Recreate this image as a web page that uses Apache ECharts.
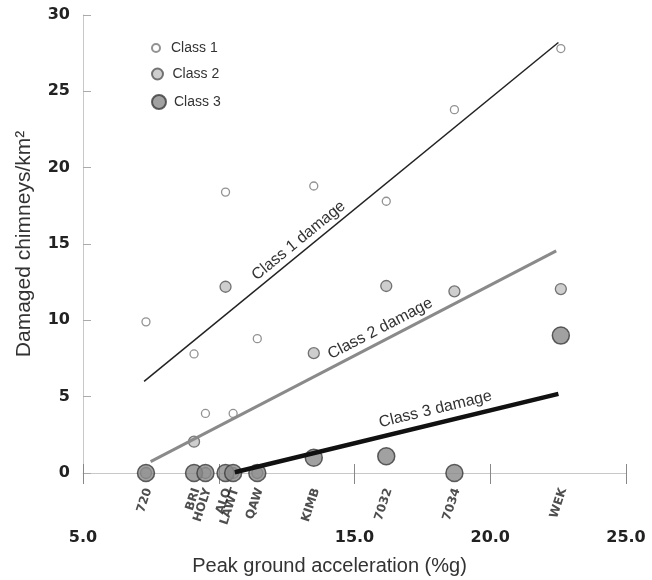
<!DOCTYPE html>
<html>
<head>
<meta charset="utf-8">
<script src="https://cdn.jsdelivr.net/npm/echarts@6/dist/echarts.min.js"></script>
<style>
  html, body { margin: 0; padding: 0; background: #fff; }
  #main { width: 652px; height: 580px; }
</style>
</head>
<body>
<div id="main"></div>
<script>
// station data
const stations = ["720", "BRI", "HOLY", "ALO", "LAWT", "QAW", "KIMB", "7032", "7034", "WEK"];
const pga = [7.32, 9.09, 9.51, 10.25, 10.53, 11.42, 13.5, 16.17, 18.68, 22.6];
const class1 = [9.9, 7.8, 3.9, 18.4, 3.9, 8.8, 18.8, 17.8, 23.8, 27.8];
const class2 = [0, 2.05, 0, 12.2, 0, 0, 7.85, 12.25, 11.9, 12.05];
const class3 = [0, 0, 0, 0, 0, 0, 1.0, 1.1, 0, 9.0];

// fitted damage lines (start, end)
const trend1 = [[7.25, 6.0], [22.51, 28.2]];
const trend2 = [[7.49, 0.74], [22.43, 14.55]];
const trend3 = [[10.59, 0.05], [22.51, 5.18]];
const trendNames = ["Class 1 damage", "Class 2 damage", "Class 3 damage"];

// axis ticks
const xLabelValues = [5, 15, 20, 25];

const font = "Liberation Sans, Arial, sans-serif";
const boldFont = "DejaVu Sans, sans-serif";
const pts = (ys) => pga.map((x, i) => [x, ys[i]]);

const chart = echarts.init(document.getElementById("main"));

const legendItem = (name, top, size) => ({
  data: [name],
  orient: "vertical",
  left: 151,
  top: top,
  padding: 0,
  itemWidth: 16,
  itemHeight: size,
  selectedMode: false,
  textStyle: { fontFamily: font, fontSize: 14, color: "#333", padding: [0, 0, 0, 2] },
});

const option = {
  animation: false,
  grid: { left: 83, right: 26, top: 15, bottom: 107, outerBoundsMode: "none" },
  legend: [
    legendItem("Class 1", 41, 8),
    legendItem("Class 2", 67, 11),
    legendItem("Class 3", 94, 14),
  ],
  xAxis: [
    {
      type: "value",
      min: 5,
      max: 25,
      interval: 5,
      name: "Peak ground acceleration (%g)",
      nameLocation: "middle",
      nameGap: 83,
      nameTextStyle: { fontFamily: font, fontSize: 20, color: "#333", padding: [0, 50, 0, 0] },
      axisLine: { lineStyle: { color: "#c8c8c8", width: 1 } },
      axisTick: { length: 11, lineStyle: { color: "#888" } },
      splitLine: { show: false },
      axisLabel: {
        customValues: xLabelValues,
        margin: 57,
        fontFamily: boldFont,
        fontSize: 16,
        fontWeight: "bold",
        color: "#222",
        formatter: (v) => v.toFixed(1),
      },
    },
    {
      // upper half of the crossing ticks
      type: "value",
      min: 5,
      max: 25,
      interval: 5,
      position: "bottom",
      axisLine: { show: false },
      axisTick: { inside: true, length: 9, lineStyle: { color: "#888" } },
      axisLabel: { show: false },
      splitLine: { show: false },
    },
  ],
  yAxis: {
    type: "value",
    min: 0,
    max: 30,
    interval: 5,
    name: "Damaged chimneys/km²",
    nameLocation: "middle",
    nameGap: 48,
    nameTextStyle: { fontFamily: font, fontSize: 21, color: "#333" },
    axisLine: { show: true, lineStyle: { color: "#c8c8c8" } },
    axisTick: { show: true, inside: true, length: 8, lineStyle: { color: "#aaa" } },
    splitLine: { show: false },
    axisLabel: {
      margin: 13,
      fontFamily: boldFont,
      fontSize: 16,
      fontWeight: "bold",
      color: "#222",
    },
  },
  series: [
    {
      name: "stations",
      type: "scatter",
      data: pga.map((x) => [x, 0]),
      symbolSize: 1,
      silent: true,
      itemStyle: { color: "transparent" },
      label: {
        show: true,
        position: [3, 16],
        rotate: 72,
        align: "right",
        verticalAlign: "middle",
        fontFamily: boldFont,
        fontSize: 12,
        fontWeight: "bold",
        color: "#222",
        formatter: (p) => stations[p.dataIndex],
      },
    },
    {
      type: "line",
      data: trend1,
      showSymbol: false,
      silent: true,
      lineStyle: { color: "#222", width: 1.5 },
    },
    {
      type: "line",
      data: trend2,
      showSymbol: false,
      silent: true,
      lineStyle: { color: "#8a8a8a", width: 3 },
    },
    {
      type: "line",
      data: trend3,
      showSymbol: false,
      silent: true,
      lineStyle: { color: "#111", width: 4.5 },
    },
    {
      name: "Class 1",
      type: "scatter",
      data: pts(class1),
      symbolSize: 8,
      itemStyle: { color: "#fff", borderColor: "#777", borderWidth: 1.3 },
    },
    {
      name: "Class 2",
      type: "scatter",
      data: pts(class2),
      symbolSize: 11,
      itemStyle: { color: "#c2c2c2", borderColor: "#555", borderWidth: 1.3 },
    },
    {
      name: "Class 3",
      type: "scatter",
      data: pts(class3),
      symbolSize: 17,
      itemStyle: { color: "#8a8a8a", borderColor: "#3a3a3a", borderWidth: 1.5 },
    },
  ],
};

chart.setOption(option);

// labels along the fitted lines: position as fraction along line, lift above it
const labelPlace = [
  { t: 0.39, lift: 11 },
  { t: 0.58, lift: 12 },
  { t: 0.63, lift: 14 },
];
const graphics = [trend1, trend2, trend3].map((tr, i) => {
  const a = chart.convertToPixel({ xAxisIndex: 0, yAxisIndex: 0 }, tr[0]);
  const b = chart.convertToPixel({ xAxisIndex: 0, yAxisIndex: 0 }, tr[1]);
  const ang = Math.atan2(a[1] - b[1], b[0] - a[0]);
  const t = labelPlace[i].t;
  const d = labelPlace[i].lift;
  const px = a[0] + (b[0] - a[0]) * t - Math.sin(ang) * d;
  const py = a[1] + (b[1] - a[1]) * t - Math.cos(ang) * d;
  return {
    type: "text",
    x: px,
    y: py,
    rotation: ang,
    silent: true,
    style: {
      text: trendNames[i],
      fontFamily: font,
      fontSize: 16,
      fill: "#333",
      align: "center",
      verticalAlign: "middle",
    },
  };
});
chart.setOption({ graphic: graphics });

window.addEventListener("resize", () => chart.resize());
</script>
</body>
</html>
